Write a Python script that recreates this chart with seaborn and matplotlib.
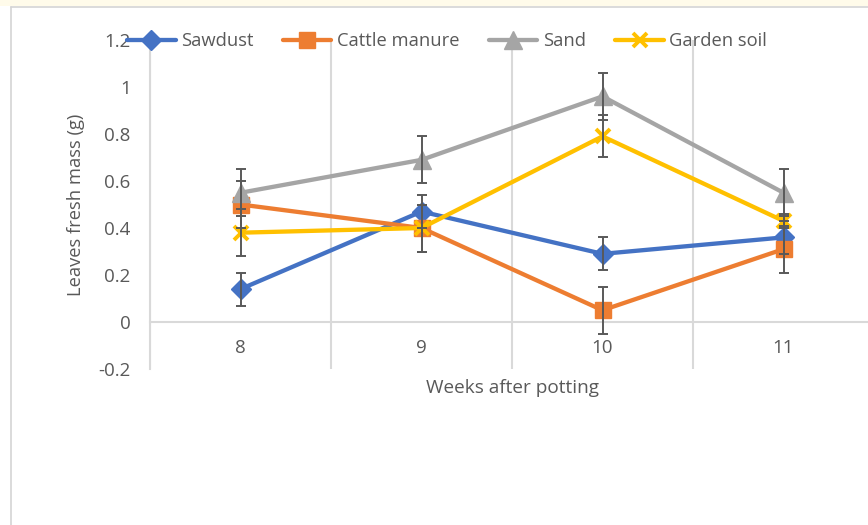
import numpy as np
import pandas as pd
import matplotlib
matplotlib.use("Agg")
import matplotlib.pyplot as plt
from matplotlib.lines import Line2D
from matplotlib.patches import Rectangle
import seaborn as sns

# Leaves fresh mass per growing medium, weeks 8-11 after potting
weeks = [8, 9, 10, 11]
sawdust = [0.14, 0.47, 0.29, 0.36]
sawdust_err = [0.07, 0.07, 0.07, 0.07]
cattle_manure = [0.50, 0.40, 0.05, 0.31]
cattle_manure_err = [0.10, 0.10, 0.10, 0.10]
sand = [0.55, 0.69, 0.96, 0.55]
sand_err = [0.10, 0.10, 0.10, 0.10]
garden_soil = [0.38, 0.40, 0.79, 0.43]
garden_soil_err = [0.10, 0.10, 0.09, 0.03]

series = ["Sawdust", "Cattle manure", "Sand", "Garden soil"]
values = [sawdust, cattle_manure, sand, garden_soil]
errors = [sawdust_err, cattle_manure_err, sand_err, garden_soil_err]
colors = ["#4472C4", "#ED7D31", "#A5A5A5", "#FFC000"]
markers = ["D", "s", "^", "x"]
msizes = [9.8, 11.5, 12.5, 10.5]
mews = [1, 1, 1, 2.8]

df = pd.DataFrame({
    "week": np.tile(weeks, len(series)),
    "mass": np.concatenate(values),
    "err": np.concatenate(errors),
    "medium": np.repeat(series, len(weeks)),
})

sns.set_theme(style="white")
plt.rcParams["font.family"] = ["Open Sans", "DejaVu Sans"]
text_color = "#595959"
grid_color = "#D9D9D9"

fig = plt.figure(figsize=(8.68, 5.25), dpi=100)
fig.patch.set_facecolor("white")

# window chrome: tinted strip on top, thin borders
fig.patches.append(Rectangle((0, 1 - 5.5 / 525), 1, 5.5 / 525, transform=fig.transFigure,
                             facecolor="#FFFBEA", edgecolor="none", zorder=0))
fig.lines.append(Line2D([11 / 868, 1], [1 - 7 / 525, 1 - 7 / 525], transform=fig.transFigure,
                        color="#D4D4D4", lw=1.2))
fig.lines.append(Line2D([11 / 868, 11 / 868], [0, 1 - 7 / 525], transform=fig.transFigure,
                        color="#D4D4D4", lw=1.2))

ax = fig.add_axes([150 / 868, 1 - 369 / 525, 724 / 868, 329 / 525])

for name, col, mk, ms, mew in zip(series, colors, markers, msizes, mews):
    sub = df[df["medium"] == name]
    sns.lineplot(data=sub, x="week", y="mass", ax=ax, color=col, marker=mk,
                 markersize=ms, markeredgecolor=col, markeredgewidth=mew,
                 linewidth=3.1, label=name, errorbar=None, zorder=3)

for name in series:
    sub = df[df["medium"] == name]
    ax.errorbar(sub["week"], sub["mass"], yerr=sub["err"], fmt="none",
                ecolor="#595959", elinewidth=1.4, capsize=3.6, capthick=1.4, zorder=5)

ax.set_xlim(7.5, 11.5)
ax.set_ylim(-0.2, 1.2)
ax.set_xticks(weeks)
ax.set_xticks([7.5, 8.5, 9.5, 10.5, 11.5], minor=True)
ax.set_yticks([-0.2, 0, 0.2, 0.4, 0.6, 0.8, 1.0, 1.2])
ax.set_yticklabels(["-0.2", "0", "0.2", "0.4", "0.6", "0.8", "1", "1.2"])
ax.grid(False)
ax.grid(True, which="minor", axis="x", color=grid_color, lw=1.5)

for s in ["top", "right"]:
    ax.spines[s].set_visible(False)
ax.spines["left"].set_color(grid_color)
ax.spines["left"].set_linewidth(1.5)
ax.spines["bottom"].set_position(("data", 0))
ax.spines["bottom"].set_color(grid_color)
ax.spines["bottom"].set_linewidth(1.5)

ax.tick_params(axis="both", which="both", length=0, colors=text_color, labelsize=13.5)
ax.tick_params(axis="x", pad=12)
ax.tick_params(axis="y", pad=14)

ax.set_xlabel("Weeks after potting", fontsize=13.7, color=text_color)
ax.set_ylabel("Leaves fresh mass (g)", fontsize=13.2, color=text_color)
ax.xaxis.set_label_coords(0.5, -0.03)
ax.yaxis.set_label_coords(-0.09, 0.5)

handles, labels = ax.get_legend_handles_labels()
ax.get_legend().remove()
fig.legend(handles, labels, loc="center left", bbox_to_anchor=(127 / 868, 1 - 41 / 525),
           ncol=4, frameon=False, fontsize=13.2, labelcolor=text_color,
           handlelength=2.65, handletextpad=0.3, columnspacing=1.6,
           borderpad=0, borderaxespad=0)

fig.savefig("out.png", dpi=100)
